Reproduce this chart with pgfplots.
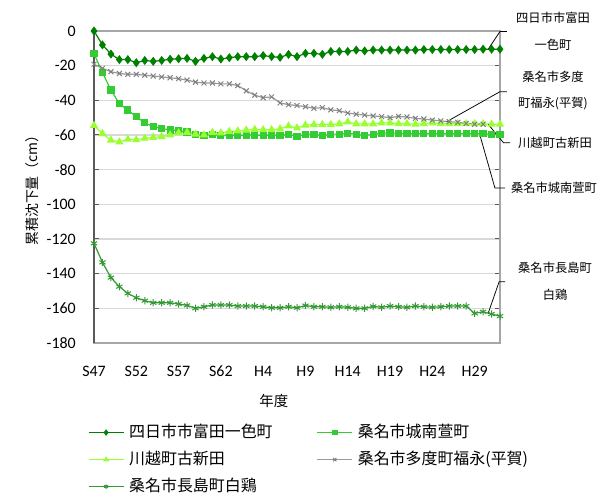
\documentclass[border=0pt]{standalone}
\usepackage{fontspec}
\setmainfont{Carlito}
\newfontfamily\jp{Noto Sans CJK JP}
\usepackage{pgfplots}
\pgfplotsset{compat=1.18}
\definecolor{cA}{HTML}{008000}
\definecolor{cB}{HTML}{33CC33}
\definecolor{cC}{HTML}{99FF33}
\definecolor{cD}{HTML}{999999}
\definecolor{cDm}{HTML}{808080}
\definecolor{cE}{HTML}{339933}
\definecolor{gridc}{HTML}{D9D9D9}
\definecolor{framec}{HTML}{A6A6A6}
\definecolor{axc}{HTML}{595959}
\begin{document}
\begin{tikzpicture}
\path[use as bounding box] (0,0) rectangle (605bp,494bp);
\begin{axis}[
  at={(94bp,151bp)}, anchor=south west,
  width=406bp, height=312bp, scale only axis,
  xmin=0, xmax=48, ymin=-180, ymax=0,
  clip=false,
  xtick={0,5,...,45},
  xticklabels={S47,S52,S57,S62,H4,H9,H14,H19,H24,H29},
  ytick={-180,-160,...,0},
  yticklabels={-180,-160,-140,-120,-100,-80,-60,-40,-20,0},
  ticklabel style={font=\fontsize{16}{19}\selectfont},
  xticklabel style={anchor=base, yshift=-33bp},
  yticklabel style={anchor=east, inner sep=0pt, xshift=-18bp},
  x tick style={draw=none},
  y tick style={draw=axc, line width=1bp},
  tick align=inside, major tick length=5bp,
  ymajorgrids, grid style={draw=gridc, line width=1.2bp},
  axis line style={draw=framec, line width=1.6bp},
  xlabel={\jp 年度},
  ylabel={\jp 累積沈下量（cm）},
  every axis x label/.style={at={(axis description cs:0.443,-0.186)}, anchor=center, font=\fontsize{14.5}{16}\selectfont},
  every axis y label/.style={at={(axis description cs:-0.1527,0.5)}, rotate=90, anchor=center, font=\fontsize{14}{16}\selectfont},
  legend columns=2,
  legend cell align=left,
  legend style={at={(axis description cs:-0.0148,-0.263)}, anchor=north west, draw=none, fill=none,
    inner sep=0pt, outer sep=0pt,
    font=\jp\fontsize{16}{18}\selectfont, row sep=12bp,
    nodes={inner sep=0pt, text height=12bp, text depth=3bp},
    /tikz/every odd column/.append style={column sep=5bp},
    /tikz/every even column/.append style={column sep=44bp}},
  every legend image post/.append style={mark size=2.3},
  legend image code/.code={\draw[mark repeat=2,mark phase=2] plot coordinates {(0bp,0bp)(17.5bp,0bp)(35bp,0bp)};},
]
\addplot[color=cA, line width=1.2bp, mark=diamond*, mark size=3.6, mark options={solid, fill=cA}] coordinates {
(0,0)(1,-8)(2,-13.3)(3,-16.5)(4,-16.5)(5,-18.3)(6,-17)(7,-17.5)(8,-17)(9,-16.3)(10,-16)(11,-15.8)(12,-17.5)(13,-15.8)(14,-14.8)(15,-16.2)(16,-15.4)(17,-14.8)(18,-14.8)(19,-14.8)(20,-14.2)(21,-14.8)(22,-15.2)(23,-13.5)(24,-14.8)(25,-12.9)(26,-12.9)(27,-13.5)(28,-11.8)(29,-11.8)(30,-11.8)(31,-11)(32,-11.5)(33,-11)(34,-11)(35,-11)(36,-11)(37,-11)(38,-11)(39,-10.7)(40,-10.7)(41,-10.7)(42,-10.7)(43,-10.7)(44,-10.7)(45,-10.7)(46,-10.5)(47,-10.5)(48,-10.5)};
\addlegendentry{四日市市富田一色町}
\addplot[color=cB, line width=1.2bp, mark=square*, mark size=3, mark options={solid, fill=cB}] coordinates {
(0,-13)(1,-24)(2,-34)(3,-42)(4,-45.6)(5,-49.5)(6,-53)(7,-55.2)(8,-56.2)(9,-57.1)(10,-57.5)(11,-58.3)(12,-59.5)(13,-60.5)(14,-59.5)(15,-60.5)(16,-60)(17,-60.5)(18,-60)(19,-60)(20,-60.3)(21,-60)(22,-60.5)(23,-59.5)(24,-61)(25,-59.5)(26,-59.5)(27,-60.5)(28,-59.5)(29,-59.5)(30,-59)(31,-59.5)(32,-60.5)(33,-59.5)(34,-59)(35,-58.8)(36,-59)(37,-59.3)(38,-59.3)(39,-59.3)(40,-59.3)(41,-59.3)(42,-59.3)(43,-59.3)(44,-59.3)(45,-59.3)(46,-59.3)(47,-59.6)(48,-59.6)};
\addlegendentry{桑名市城南萱町}
\addplot[color=cC, line width=1.2bp, mark=triangle*, mark size=3.6, mark options={solid, fill=cC}] coordinates {
(0,-54.5)(1,-59.2)(2,-63)(3,-64)(4,-62.5)(5,-62.8)(6,-61.9)(7,-61.4)(8,-61)(9,-60)(10,-58.7)(11,-58.5)(12,-59.5)(13,-60)(14,-58.5)(15,-58.8)(16,-58)(17,-57.7)(18,-57.2)(19,-56.8)(20,-57)(21,-57)(22,-56.5)(23,-54.8)(24,-56)(25,-54.3)(26,-54)(27,-54)(28,-54)(29,-53.6)(30,-52.5)(31,-53.6)(32,-53.6)(33,-53.6)(34,-53)(35,-53)(36,-53.5)(37,-53.5)(38,-53.8)(39,-53.5)(40,-53)(41,-53.5)(42,-53.5)(43,-53.5)(44,-53.5)(45,-53.5)(46,-53.5)(47,-53.8)(48,-53.8)};
\addlegendentry{川越町古新田}
\addplot[color=cD, line width=1.2bp, mark=x, mark size=3.5, mark options={solid, draw=cDm, line width=1bp}] coordinates {
(0,-19.2)(1,-21.5)(2,-23.5)(3,-24.5)(4,-25)(5,-25)(6,-25.5)(7,-26)(8,-26.5)(9,-27)(10,-27.5)(11,-28.3)(12,-29.5)(13,-30)(14,-30)(15,-30.5)(16,-30.5)(17,-31.5)(18,-34.5)(19,-37)(20,-38.5)(21,-38)(22,-41.5)(23,-42.5)(24,-43)(25,-43.7)(26,-44.6)(27,-44.2)(28,-45.5)(29,-46)(30,-47.3)(31,-48)(32,-48.5)(33,-49)(34,-49.4)(35,-50)(36,-49.3)(37,-49.6)(38,-50.4)(39,-50.8)(40,-51.4)(41,-51.9)(42,-52.3)(43,-52.7)(44,-53.3)(45,-53.8)(46,-53.8)};
\addlegendentry{桑名市多度町福永(平賀)}
\addplot[color=cE, line width=1.2bp, mark=asterisk, mark size=3.6, mark options={solid, draw=cE, line width=1bp}] coordinates {
(0,-122.5)(1,-133.5)(2,-142.3)(3,-147.5)(4,-151.4)(5,-153.9)(6,-155.6)(7,-156.8)(8,-156.8)(9,-156.8)(10,-157.5)(11,-158.3)(12,-160)(13,-159.1)(14,-158.1)(15,-158.1)(16,-158.1)(17,-158.7)(18,-158.7)(19,-158.7)(20,-159.1)(21,-159.7)(22,-159.7)(23,-159.1)(24,-159.7)(25,-158.4)(26,-159.1)(27,-159.1)(28,-159.4)(29,-159.1)(30,-159.4)(31,-160)(32,-160)(33,-158.9)(34,-159.4)(35,-158.7)(36,-159.1)(37,-159.4)(38,-158.7)(39,-159.1)(40,-159.4)(41,-159.1)(42,-158.7)(43,-158.7)(44,-158.7)(45,-162.9)(46,-162)(47,-163.3)(48,-164.5)};
\addlegendentry{桑名市長島町白鶏}
\draw[axc, line width=1.8bp] (rel axis cs:0,0) -- (rel axis cs:0,1);
\draw[black, line width=0.75bp] (axis cs:46.6,-10.5) -- (axis cs:48,-0.3) -- (axis cs:48.8,-0.3);
\draw[black, line width=0.75bp] (axis cs:41.7,-52.3) -- (axis cs:48,-35) -- (axis cs:48.8,-35);
\draw[black, line width=0.75bp] (axis cs:46.6,-53.8) -- (axis cs:48.4,-64.4) -- (axis cs:49.2,-64.4);
\draw[black, line width=0.75bp] (axis cs:45.6,-59.6) -- (axis cs:47.4,-90.6) -- (axis cs:48.6,-90.6);
\draw[black, line width=0.75bp] (axis cs:46.6,-162.9) -- (axis cs:47.9,-144.6) -- (axis cs:48.6,-144.6);
\end{axis}
\begin{scope}[every node/.style={align=center, inner sep=0pt, font=\jp\fontsize{12.3}{27}\selectfont}]
\node at (553bp,462.5bp) {四日市市富田\\一色町};
\node at (553bp,403.5bp) {桑名市多度\\町福永(平賀)};
\node at (555bp,351bp) {川越町古新田};
\node at (554bp,306bp) {桑名市城南萱町};
\node at (555bp,213bp) {桑名市長島町\\白鶏};
\end{scope}
\end{tikzpicture}
\end{document}
